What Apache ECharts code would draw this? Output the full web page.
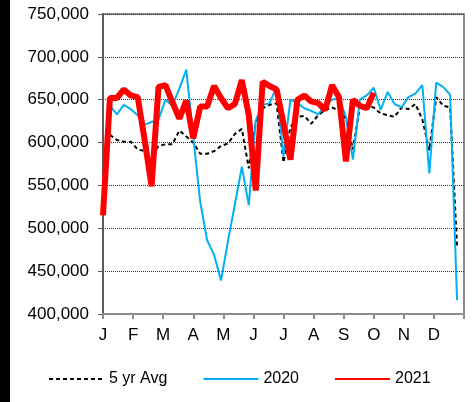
<!DOCTYPE html>
<html lang="en">
<head>
    <meta charset="UTF-8">
    <title>Weekly volumes</title>
    <style>
        html, body { margin: 0; padding: 0; background: #fff; }
        #main { width: 475px; height: 402px; }
    </style>
</head>
<script type="text/javascript" src="https://cdn.jsdelivr.net/npm/echarts@6/dist/echarts.min.js"></script>
<body>
<div id="main"></div>
<script type="text/javascript">
    // month letters on the x axis (week 0 .. 52)
    var months = ['J', 'F', 'M', 'A', 'M', 'J', 'J', 'A', 'S', 'O', 'N', 'D'];
    var yTicks = [400000, 450000, 500000, 550000, 600000, 650000, 700000, 750000];

    var avg5 = [null, 609000, 603000, 601000, 601000, 592000, 590000, 585000, 596000, 598000,
        598000, 614000, 607000, 600000, 587000, 587000, 590000, 596000, 599000, 610000,
        616000, 570000, 624000, 640000, 644000, 646000, 577000, 618000, 630000, 631000,
        622000, 632000, 638000, 641000, 637000, 628000, 592000, 642000, 643000, 641000,
        634000, 632000, 630000, 641000, 639000, 645000, 627000, 591000, 653000, 643000,
        641000, 479000];

    var y2020 = [550000, 643000, 633000, 644000, 639000, 632000, 621000, 624000, 627000, 650000,
        643000, 663000, 685000, 607000, 531000, 486000, 469000, 439000, 485000, 528000,
        572000, 527000, 626000, 644000, 646000, 665000, 584000, 650000, 646000, 640000,
        637000, 633000, 643000, 650000, 652000, 630000, 580000, 650000, 655000, 664000,
        638000, 659000, 645000, 641000, 653000, 657000, 667000, 564000, 670000, 665000,
        656000, 416000];

    var y2021 = [515000, 652000, 652000, 662000, 655000, 653000, 603000, 549000, 665000, 667000,
        647000, 628000, 649000, 605000, 642000, 642000, 666000, 652000, 640000, 645000,
        673000, 632000, 544000, 671000, 666000, 662000, 622000, 580000, 650000, 655000,
        648000, 646000, 638000, 667000, 653000, 578000, 650000, 643000, 640000, 658000];

    function pairs(arr) {
        var out = [];
        for (var i = 0; i < arr.length; i++) out.push([i, arr[i]]);
        return out;
    }

    var font = 'Liberation Sans, Arial, sans-serif';
    var myChart = echarts.init(document.getElementById('main'), null, {renderer: 'canvas'});
    myChart.setOption({
        animation: false,
        backgroundColor: '#fff',
        graphic: [{type: 'rect', left: 0, top: 0, shape: {width: 10, height: 402}, style: {fill: '#000'}}],
        grid: {left: 103, right: 11, top: 14, bottom: 88, show: true, borderColor: '#8c8c8c', borderWidth: 2},
        legend: {
            left: 43, top: 366,
            itemWidth: 55, itemHeight: 12, itemGap: 35,
            itemStyle: {opacity: 0},
            textStyle: {fontFamily: font, fontSize: 16, color: '#000'},
            data: ['5 yr Avg', '2020', '2021']
        },
        xAxis: {
            type: 'value', min: 0, max: 52, interval: 52 / 12,
            axisLine: {lineStyle: {color: '#8c8c8c', width: 2}},
            axisTick: {show: true, length: 5, lineStyle: {color: '#8c8c8c', width: 2}},
            splitLine: {show: false},
            axisLabel: {
                fontFamily: font, fontSize: 17, color: '#000', margin: 13,
                formatter: function (v) { return months[Math.round(v * 12 / 52)] || ''; }
            }
        },
        yAxis: {
            type: 'value', min: yTicks[0], max: yTicks[yTicks.length - 1], interval: 50000,
            axisLine: {show: true, lineStyle: {color: '#5a5a5a', width: 2}},
            axisTick: {show: true, length: 5, lineStyle: {color: '#5a5a5a'}},
            splitLine: {lineStyle: {color: '#333', type: 'dotted', width: 1}},
            axisLabel: {
                fontFamily: font, fontSize: 17, color: '#000', margin: 14,
                formatter: function (v) { return v.toLocaleString('en-US'); }
            }
        },
        series: [
            {name: '5 yr Avg', type: 'line', symbol: 'none', data: pairs(avg5),
                lineStyle: {color: '#000', width: 2, type: [4, 3]}, itemStyle: {color: '#000'}},
            {name: '2020', type: 'line', symbol: 'none', data: pairs(y2020),
                lineStyle: {color: '#00b0f0', width: 2}, itemStyle: {color: '#00b0f0'}},
            {name: '2021', type: 'line', symbol: 'none', data: pairs(y2021),
                lineStyle: {color: '#ff0000', width: 6}, itemStyle: {color: '#ff0000'}}
        ]
    });
</script>
</body>
</html>
